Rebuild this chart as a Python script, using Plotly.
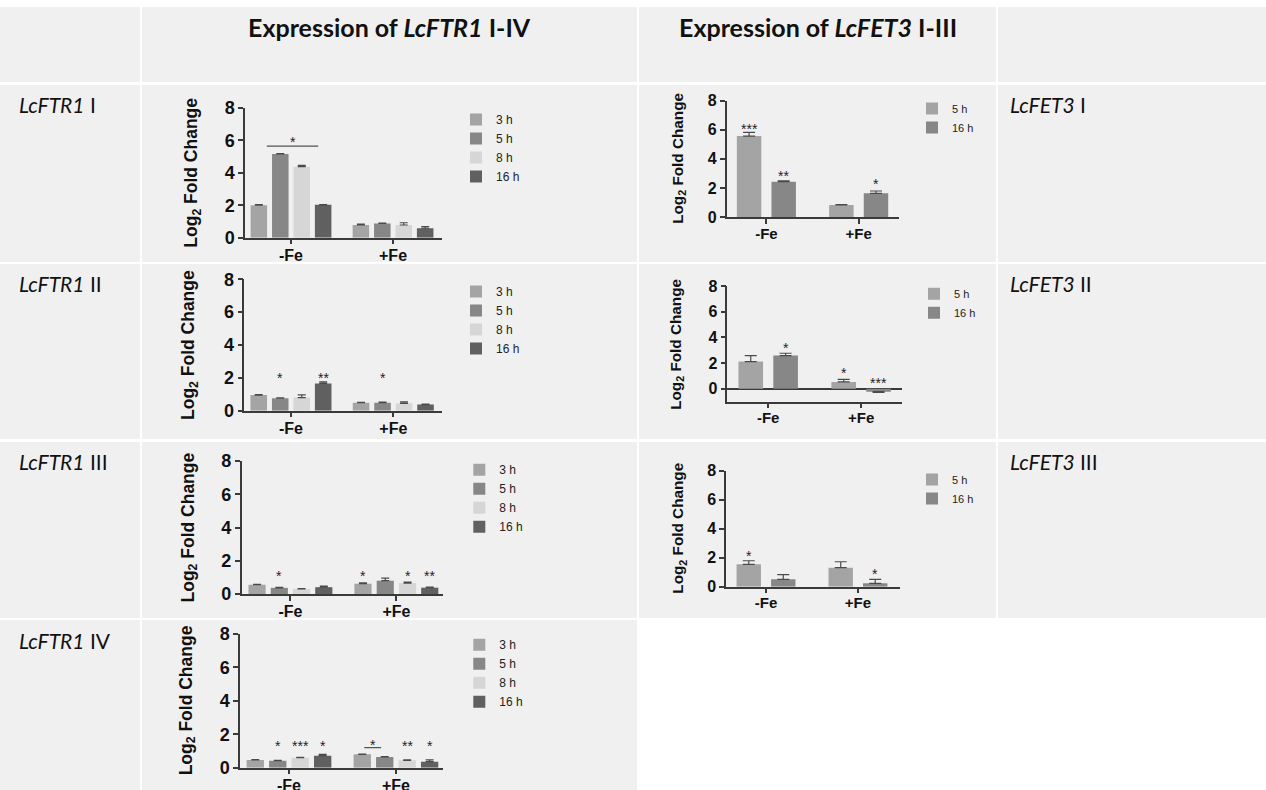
import plotly.graph_objects as go

W, H = 1266, 790

# ---------------- data ----------------
conditions = ["-Fe", "+Fe"]
ftr_times = ["3 h", "5 h", "8 h", "16 h"]
fet_times = ["5 h", "16 h"]
ftr_colors = ["#a4a4a4", "#878787", "#d6d6d6", "#606060"]
fet_colors = ["#a4a4a4", "#878787"]

# LcFTR1 I  (one list per time point: [-Fe, +Fe])
ftr1_I_vals = [[2.00, 0.78], [5.15, 0.88], [4.37, 0.78], [2.02, 0.58]]
ftr1_I_err = [[0.03, 0.06], [0.02, 0.02], [0.08, 0.14], [0.02, 0.10]]
ftr1_I_stars = [(0, 1.57, "*", 6.1)]
ftr1_I_lines = [(0, 0.37, 2.77, 5.64)]

# LcFTR1 II
ftr1_II_vals = [[0.95, 0.49], [0.76, 0.49], [0.80, 0.45], [1.66, 0.37]]
ftr1_II_err = [[0.03, 0.02], [0.02, 0.03], [0.16, 0.09], [0.10, 0.03]]
ftr1_II_stars = [(0, 1, "*", 2.17), (0, 3, "**", 2.17), (1, 1, "*", 2.17)]
ftr1_II_lines = []

# LcFTR1 III
ftr1_III_vals = [[0.56, 0.62], [0.37, 0.80], [0.30, 0.66], [0.41, 0.38]]
ftr1_III_err = [[0.02, 0.05], [0.03, 0.16], [0.03, 0.06], [0.07, 0.04]]
ftr1_III_stars = [(0, 1, "*", 1.24), (1, 0, "*", 1.24), (1, 2, "*", 1.24), (1, 3, "**", 1.24)]
ftr1_III_lines = []

# LcFTR1 IV
ftr1_IV_vals = [[0.46, 0.80], [0.42, 0.64], [0.60, 0.44], [0.72, 0.36]]
ftr1_IV_err = [[0.02, 0.02], [0.02, 0.03], [0.02, 0.03], [0.08, 0.11]]
ftr1_IV_stars = [(0, 1, "*", 1.5), (0, 2, "***", 1.5), (0, 3, "*", 1.5),
                 (1, 0.5, "*", 1.52), (1, 2, "**", 1.5), (1, 3, "*", 1.5)]
ftr1_IV_lines = [(1, 0.09, 0.84, 1.2)]

# LcFET3 I
fet3_I_vals = [[5.57, 0.83], [2.43, 1.63]]
fet3_I_err = [[0.25, 0.02], [0.05, 0.16]]
fet3_I_stars = [(0, 0, "***", 6.28), (0, 1, "**", 3.0), (1, 1, "*", 2.5)]
fet3_I_lines = []

# LcFET3 II
fet3_II_vals = [[2.12, 0.54], [2.59, -0.22]]
fet3_II_err = [[0.47, 0.20], [0.18, 0.05]]
fet3_II_stars = [(0, 1, "*", 3.4), (1, 0, "*", 1.45), (1, 1, "***", 0.7)]
fet3_II_lines = []

# LcFET3 III
fet3_III_vals = [[1.54, 1.31], [0.51, 0.23]]
fet3_III_err = [[0.25, 0.41], [0.32, 0.28]]
fet3_III_stars = [(0, 0, "*", 2.3), (1, 1, "*", 1.1)]
fet3_III_lines = []

y_ticks = [0, 2, 4, 6, 8]
header_texts = ["<b>Expression of <i>LcFTR1</i> I-IV</b>", "<b>Expression of <i>LcFET3</i> I-III</b>"]
ftr_row_labels = ["<i>LcFTR1</i> I", "<i>LcFTR1</i> II", "<i>LcFTR1</i> III", "<i>LcFTR1</i> IV"]
fet_row_labels = ["<i>LcFET3</i> I", "<i>LcFET3</i> II", "<i>LcFET3</i> III"]
y_title = "<b>Log<sub>2</sub> Fold Change</b>"

# ---------------- layout (pixels) ----------------
def px(x):
    return x / W


def py(y):
    return 1 - y / H


panels = [
    dict(v=ftr1_I_vals, e=ftr1_I_err, s=ftr1_I_stars, l=ftr1_I_lines, kind="ftr",
         xd=(245, 442), yd=(107.7, 237.7), xr=(-0.451, 1.48), yr=(0, 8), leg=(470, 118), tx=193),
    dict(v=fet3_I_vals, e=fet3_I_err, s=fet3_I_stars, l=fet3_I_lines, kind="fet",
         xd=(726.7, 899.3), yd=(100.7, 217), xr=(-0.43, 1.44), yr=(0, 8), leg=(926, 109), tx=679),
    dict(v=ftr1_II_vals, e=ftr1_II_err, s=ftr1_II_stars, l=ftr1_II_lines, kind="ftr",
         xd=(244.3, 441.7), yd=(279.3, 410.7), xr=(-0.456, 1.473), yr=(0, 8), leg=(470, 290), tx=189),
    dict(v=fet3_II_vals, e=fet3_II_err, s=fet3_II_stars, l=fet3_II_lines, kind="fet",
         xd=(727.3, 902), yd=(286, 401.7), xr=(-0.44, 1.44), yr=(-1, 8), leg=(928, 294.3), tx=677),
    dict(v=ftr1_III_vals, e=ftr1_III_err, s=ftr1_III_stars, l=ftr1_III_lines, kind="ftr",
         xd=(241.7, 443), yd=(461, 594), xr=(-0.46, 1.44), yr=(0, 8), leg=(473.3, 468.3), tx=189),
    dict(v=fet3_III_vals, e=fet3_III_err, s=fet3_III_stars, l=fet3_III_lines, kind="fet",
         xd=(726, 900), yd=(470.7, 586.7), xr=(-0.435, 1.457), yr=(0, 8), leg=(926, 480), tx=679),
    dict(v=ftr1_IV_vals, e=ftr1_IV_err, s=ftr1_IV_stars, l=ftr1_IV_lines, kind="ftr",
         xd=(240, 443), yd=(634, 767.7), xr=(-0.458, 1.44), yr=(0, 8), leg=(473.3, 643.3), tx=187.5),
]

style = {
    "ftr": dict(slot=0.21, bw=0.162, xtick=16, ytick=18, title=17.5, leg=12, legdy=13, cap=4,
                times=ftr_times, colors=ftr_colors),
    "fet": dict(slot=0.375, bw=0.265, xtick=15, ytick=16, title=15.3, leg=11, legdy=15, cap=6,
                times=fet_times, colors=fet_colors),
}

AX = "#3a3a3a"
CELL = "#f0f0f0"
fig = go.Figure()
layout = dict(
    template="none",
    width=W, height=H, margin=dict(l=0, r=0, t=0, b=0, pad=0, autoexpand=False),
    paper_bgcolor="white", plot_bgcolor="rgba(0,0,0,0)",
    barmode="overlay", shapes=[], annotations=[],
    font=dict(family="Liberation Sans, Arial", color="#1a1a1a"),
)

# table cells
cols = [(0, 140), (142, 637), (639, 996), (998, 1266)]
rows = [(7, 82), (85, 262), (264, 439), (442, 618), (620, 790)]
for ri, (y0, y1) in enumerate(rows):
    for ci, (x0, x1) in enumerate(cols):
        if ri == 4 and ci >= 2:
            continue
        layout["shapes"].append(dict(type="rect", xref="paper", yref="paper", layer="below",
                                     x0=px(x0), x1=px(x1), y0=py(y1), y1=py(y0),
                                     fillcolor=CELL, line=dict(width=0)))

# header + row labels
for txt, (x0, x1) in zip(header_texts, [cols[1], cols[2]]):
    layout["annotations"].append(dict(text=txt, xref="paper", yref="paper", x=px((x0 + x1) / 2), y=py(27),
                                      xanchor="center", yanchor="middle", showarrow=False,
                                      font=dict(family="Lato", size=25, color="#111")))
ftr_label_y = [104, 283, 461, 640]
fet_label_y = [104, 283, 461]
for txt, yy in zip(ftr_row_labels, ftr_label_y):
    layout["annotations"].append(dict(text=txt, xref="paper", yref="paper", x=px(17), y=py(yy),
                                      xanchor="left", yanchor="middle", showarrow=False,
                                      font=dict(family="Lato", size=21, color="#111")))
for txt, yy in zip(fet_row_labels, fet_label_y):
    layout["annotations"].append(dict(text=txt, xref="paper", yref="paper", x=px(1008), y=py(yy),
                                      xanchor="left", yanchor="middle", showarrow=False,
                                      font=dict(family="Lato", size=21, color="#111")))

for i, p in enumerate(panels):
    n = i + 1
    sfx = "" if n == 1 else str(n)
    xa, ya = "x" + sfx, "y" + sfx
    st = style[p["kind"]]
    times, colors = st["times"], st["colors"]
    nb = len(times)
    slot, bw = st["slot"], st["bw"]
    legname = "legend" + sfx

    for ti, (t, c) in enumerate(zip(times, colors)):
        vals = p["v"][ti]
        errs = p["e"][ti]
        up = [e if v >= 0 else 0 for v, e in zip(vals, errs)]
        dn = [0 if v >= 0 else e for v, e in zip(vals, errs)]
        off = (ti - (nb - 1) / 2) * slot - bw / 2
        fig.add_trace(go.Bar(
            x=conditions, y=vals, name=t, xaxis=xa, yaxis=ya, legend=legname,
            marker=dict(color=c, line=dict(width=0)), width=bw, offset=off,
            error_y=dict(type="data", array=up, arrayminus=dn, symmetric=False,
                         color="#4a4a4a", thickness=1.2, width=st["cap"]),
            showlegend=True,
        ))

    def bx(ci, pos):
        return ci + (pos - (nb - 1) / 2) * slot

    for (ci, pos, lab, yv) in p["s"]:
        layout["annotations"].append(dict(text=lab, x=bx(ci, pos), y=yv, xref=xa, yref=ya,
                                          showarrow=False, xanchor="center", yanchor="middle",
                                          yshift=-3, font=dict(size=14, color="#222")))
    for (ci, p0, p1, yv) in p["l"]:
        layout["shapes"].append(dict(type="line", xref=xa, yref=ya, x0=bx(ci, p0), x1=bx(ci, p1),
                                     y0=yv, y1=yv, line=dict(color="#555", width=1.2)))

    xdom = [px(p["xd"][0]), px(p["xd"][1])]
    ydom = [py(p["yd"][1]), py(p["yd"][0])]
    layout["xaxis" + sfx] = dict(
        domain=xdom, anchor=ya, type="category", range=list(p["xr"]), automargin=False,
        showline=True, linecolor=AX, linewidth=1.5, ticks="outside", ticklen=5, tickwidth=1.5,
        tickcolor=AX, showgrid=False, zeroline=False, fixedrange=True, ticklabelstandoff=-3,
        tickfont=dict(size=st["xtick"], weight="bold", color="#111"),
    )
    layout["yaxis" + sfx] = dict(
        domain=ydom, anchor=xa, range=list(p["yr"]), tickvals=y_ticks, automargin=False,
        showline=True, linecolor=AX, linewidth=1.5, ticks="outside", ticklen=5, tickwidth=1.5,
        tickcolor=AX, showgrid=False, zeroline=p["yr"][0] < 0, zerolinecolor=AX, zerolinewidth=1.5,
        fixedrange=True, tickfont=dict(size=st["ytick"], weight="bold", color="#111"),
    )
    layout["annotations"].append(dict(text=y_title, xref="paper", yref="paper", x=px(p["tx"]),
                                      y=(ydom[0] + ydom[1]) / 2, textangle=-90, showarrow=False,
                                      xanchor="center", yanchor="middle",
                                      font=dict(size=st["title"], color="#111")))
    lx, ly = p["leg"]
    layout[legname] = dict(x=px(lx - 14), y=py(ly - st["legdy"]), xanchor="left", yanchor="top",
                           bgcolor="rgba(0,0,0,0)", font=dict(size=st["leg"], color="#222"),
                           tracegroupgap=0, itemclick=False, itemdoubleclick=False)

fig.update_layout(**layout)
fig.write_html("out.html", config={"displayModeBar": False},
               post_script="document.body.style.margin='0';document.body.style.padding='0';")
